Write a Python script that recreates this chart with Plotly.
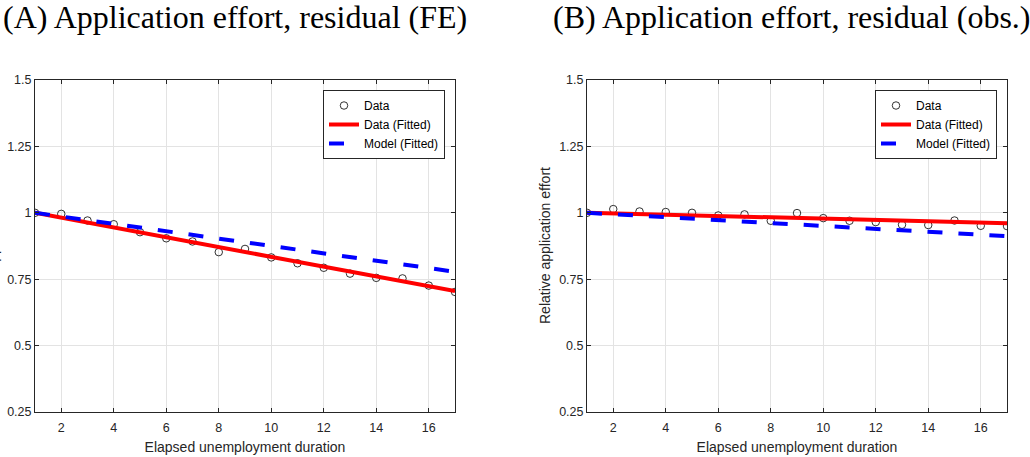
import plotly.graph_objects as go

# ---- data ----
duration = list(range(1, 18))
x_ticks = [2, 4, 6, 8, 10, 12, 14, 16]
y_ticks = [0.25, 0.5, 0.75, 1.0, 1.25, 1.5]
y_tick_labels = ["0.25", "0.5", "0.75", "1", "1.25", "1.5"]

data_a = [1.000, 0.996, 0.971, 0.957, 0.927, 0.904, 0.892, 0.852, 0.864,
          0.832, 0.810, 0.793, 0.771, 0.755, 0.753, 0.726, 0.702]
fit_x = [1, 17]
data_fit_a = [1.000, 0.705]
model_fit_a = [1.000, 0.778]

data_b = [1.000, 1.014, 1.005, 1.003, 1.000, 0.990, 0.994, 0.970, 0.999,
          0.980, 0.970, 0.965, 0.955, 0.954, 0.971, 0.951, 0.950]
data_fit_b = [1.000, 0.961]
model_fit_b = [1.000, 0.912]

titles = ["(A) Application effort, residual (FE)", "(B) Application effort, residual (obs.)"]
x_title = "Elapsed unemployment duration"
y_title = "Relative application effort"

# ---- layout constants (pixels) ----
W, H = 1030, 457
AX = [(35, 455), (587, 1007)]
AY_TOP, AY_BOT = 80, 412
INK = "#262626"
SANS = "Liberation Sans, Arial, sans-serif"
SERIF = "Liberation Serif, Times New Roman, serif"

fig = go.Figure()

panels = [
    (data_a, data_fit_a, model_fit_a, "x", "y", "legend"),
    (data_b, data_fit_b, model_fit_b, "x2", "y2", "legend2"),
]
for dat, dfit, mfit, xa, ya, lg in panels:
    fig.add_trace(go.Scatter(
        x=duration, y=dat, mode="markers", name="Data",
        marker=dict(symbol="circle-open", size=7.5, color="black", line=dict(width=0.8)),
        xaxis=xa, yaxis=ya, legend=lg))
    fig.add_trace(go.Scatter(
        x=fit_x, y=dfit, mode="lines", name="Data (Fitted)",
        line=dict(color="#ff0000", width=4),
        xaxis=xa, yaxis=ya, legend=lg))
    fig.add_trace(go.Scatter(
        x=fit_x, y=mfit, mode="lines", name="Model (Fitted)",
        line=dict(color="#0000ff", width=4, dash="15px,16px"),
        xaxis=xa, yaxis=ya, legend=lg))

ydom = [(H - AY_BOT) / H, (H - AY_TOP) / H]

def xaxis_cfg(i):
    return dict(
        domain=[AX[i][0] / W, AX[i][1] / W], range=[1, 17], automargin=False,
        tickvals=x_ticks, ticks="inside", ticklen=4, tickcolor=INK, tickwidth=1,
        showline=True, linecolor=INK, linewidth=1, mirror="ticks",
        showgrid=True, gridcolor="#e3e3e3", gridwidth=1, zeroline=False,
        tickfont=dict(family=SANS, size=12.5, color=INK), ticklabelstandoff=4,
        title=dict(text=x_title, font=dict(family=SANS, size=14, color=INK), standoff=8),
        anchor="y" if i == 0 else "y2",
    )

def yaxis_cfg(i):
    return dict(
        domain=ydom, range=[0.25, 1.5], automargin=False,
        tickvals=y_ticks, ticktext=y_tick_labels,
        ticks="inside", ticklen=4, tickcolor=INK, tickwidth=1,
        showline=True, linecolor=INK, linewidth=1, mirror="ticks",
        showgrid=True, gridcolor="#e3e3e3", gridwidth=1, zeroline=False,
        tickfont=dict(family=SANS, size=12.5, color=INK),
        anchor="x" if i == 0 else "x2",
    )

legend_common = dict(
    bgcolor="white", bordercolor=INK, borderwidth=1,
    font=dict(family=SANS, size=12, color="black"),
    xanchor="right", yanchor="top", y=1 - 90 / H, itemwidth=30,
    tracegroupgap=0,
)

annotations = [
    dict(text=titles[0], x=2 / W, y=1 - 17 / H, xref="paper", yref="paper",
         xanchor="left", yanchor="middle", showarrow=False, borderpad=0,
         font=dict(family=SERIF, size=32, color="black")),
    dict(text=titles[1], x=552 / W, y=1 - 17 / H, xref="paper", yref="paper",
         xanchor="left", yanchor="middle", showarrow=False, borderpad=0,
         font=dict(family=SERIF, size=32, color="black")),
    dict(text=y_title, x=-7 / W, y=(H - (AY_TOP + AY_BOT) / 2) / H, xref="paper", yref="paper",
         xanchor="center", yanchor="middle", textangle=-90, showarrow=False,
         font=dict(family=SANS, size=14, color=INK)),
    dict(text=y_title, x=545 / W, y=(H - (AY_TOP + AY_BOT) / 2) / H, xref="paper", yref="paper",
         xanchor="center", yanchor="middle", textangle=-90, showarrow=False,
         font=dict(family=SANS, size=14, color=INK)),
]

fig.update_layout(
    template="none",
    width=W, height=H, autosize=False,
    margin=dict(l=0, r=0, t=0, b=0, pad=0),
    paper_bgcolor="white", plot_bgcolor="white",
    xaxis=xaxis_cfg(0), yaxis=yaxis_cfg(0),
    xaxis2=xaxis_cfg(1), yaxis2=yaxis_cfg(1),
    legend=dict(x=445 / W, **legend_common),
    legend2=dict(x=997 / W, **legend_common),
    annotations=annotations,
    showlegend=True,
)

fig.write_html("out.html", config={"displayModeBar": False},
               post_script="document.body.style.margin='0';document.body.style.overflow='hidden';")
